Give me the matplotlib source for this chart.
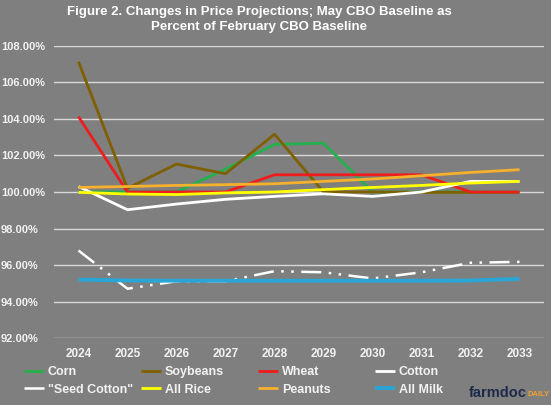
import matplotlib
matplotlib.use("Agg")
import matplotlib.pyplot as plt

years = ["2024", "2025", "2026", "2027", "2028", "2029", "2030", "2031", "2032", "2033"]
corn = [100.0, 100.0, 100.0, 101.25, 102.6, 102.67, 100.0, 100.0, 100.0, 100.0]
soybeans = [107.12, 100.2, 101.53, 101.0, 103.16, 100.0, 100.0, 99.98, 99.98, 99.98]
wheat = [104.12, 100.0, 100.0, 100.0, 100.94, 100.94, 100.94, 100.94, 100.0, 100.0]
cotton = [100.3, 99.03, 99.34, 99.6, 99.76, 99.9, 99.76, 100.0, 100.58, 100.58]
seed_cotton = [96.8, 94.71, 95.12, 95.12, 95.67, 95.61, 95.27, 95.61, 96.13, 96.18]
all_rice = [99.98, 99.89, 99.86, 99.95, 100.0, 100.13, 100.25, 100.36, 100.49, 100.58]
peanuts = [100.25, 100.3, 100.36, 100.4, 100.45, 100.58, 100.71, 100.89, 101.07, 101.22]
all_milk = [95.21, 95.16, 95.15, 95.15, 95.15, 95.15, 95.15, 95.15, 95.16, 95.25]
yticks = [92, 94, 96, 98, 100, 102, 104, 106, 108]

title = "Figure 2. Changes in Price Projections; May CBO Baseline as\nPercent of February CBO Baseline"

plt.rcParams['font.family'] = ['Liberation Sans', 'DejaVu Sans']
BG = "#7f7f7f"
TXT = "#f2f2f2"

fig = plt.figure(figsize=(5.51, 4.05), dpi=100, facecolor=BG)
ax = fig.add_axes([54/551, 1-338.3/405, 490/551, (338.3-45.7)/405], facecolor=BG)

x = list(range(len(years)))
series = [
    ("Corn", corn, "#22b14c", 2.0, "-"),
    ("Soybeans", soybeans, "#7f6000", 2.0, "-"),
    ("Wheat", wheat, "#ee1c1c", 2.0, "-"),
    ("Cotton", cotton, "#ffffff", 2.0, "-"),
    ('"Seed Cotton"', seed_cotton, "#ffffff", 1.8, (0, (8, 3, 1, 3, 1, 3))),
    ("All Rice", all_rice, "#ffff00", 2.0, "-"),
    ("Peanuts", peanuts, "#f5b12c", 2.0, "-"),
    ("All Milk", all_milk, "#2aa6d6", 2.8, "-"),
]
handles = []
for name, vals, col, lw, ls in series:
    ln, = ax.plot(x, vals, color=col, lw=lw, linestyle=ls, label=name,
                  solid_capstyle="butt", dash_capstyle="butt")
    handles.append(ln)

ax.set_xlim(-0.5, len(years) - 0.5)
ax.set_ylim(92, 108)
ax.set_yticks(yticks)
ax.set_yticklabels([f"{v:.2f}%" for v in yticks])
ax.set_xticks(x)
ax.set_xticklabels(years)
ax.grid(axis="y", color="#d9d9d9", lw=1.0)
ax.set_axisbelow(True)
for s in ax.spines.values():
    s.set_visible(False)
ax.tick_params(axis="both", length=0, colors=TXT, labelsize=8)
ax.tick_params(axis="x", pad=7, labelsize=8.5)
ax.tick_params(axis="y", pad=0)
for lab in ax.get_xticklabels() + ax.get_yticklabels():
    lab.set_fontweight("bold")
    lab.set_color(TXT)
for lab in ax.get_yticklabels():
    lab.set_horizontalalignment("left")
    lab.set_x(-54/490 + 1/490)

fig.text(259/551, 1 - 19.5/405, title, ha="center", va="center", color="white",
         fontsize=9.5, fontweight="bold", linespacing=1.25)

# legend: 4 columns, 2 rows
col_x = [24, 141, 258, 375]
for c in range(4):
    hs = [handles[c], handles[c + 4]]
    leg = fig.legend(handles=hs, loc="upper left",
                     bbox_to_anchor=(col_x[c]/551, 1 - 366/405),
                     frameon=False, handlelength=1.6, handletextpad=0.3,
                     labelspacing=0.45, borderpad=0, borderaxespad=0,
                     prop={"size": 9, "weight": "bold"})
    for t in leg.get_texts():
        t.set_color(TXT)

fig.text(527/551, 1 - 393/405, "farmdoc", ha="right", va="center",
         color="#1f2a4a", fontsize=10.5, fontweight="bold")
fig.text(527.5/551, 1 - 394/405, "DAILY", ha="left", va="center",
         color="#f0a030", fontsize=5.5, fontweight="bold")

fig.savefig("out.png", dpi=100, facecolor=BG)
